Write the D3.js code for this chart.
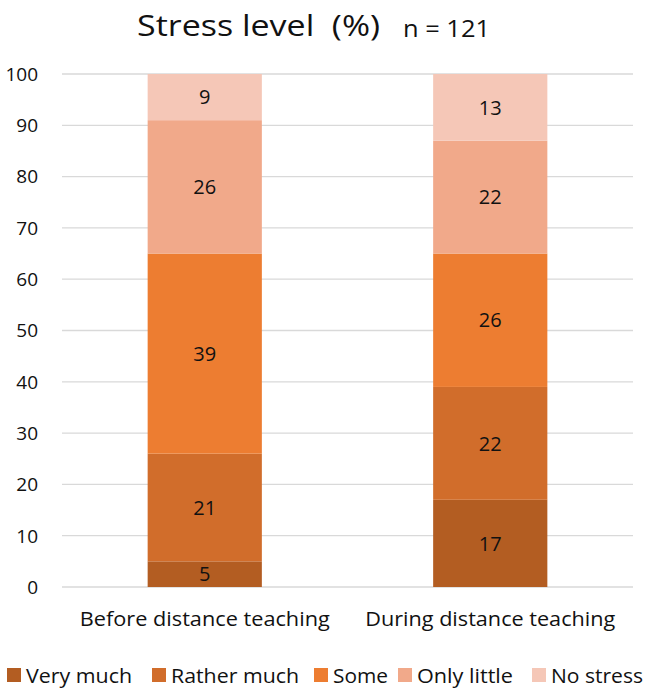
<!DOCTYPE html>
<html><head><meta charset="utf-8">
<script src="https://cdn.jsdelivr.net/npm/d3@7"></script>
<style>body{margin:0;background:#fff;} svg{display:block;font-family:"Open Sans",sans-serif;} text{white-space:pre;}</style>
</head><body>
<svg id="c" width="646" height="691"></svg>
<script>
const categories = ["Before distance teaching", "During distance teaching"];
const seriesNames = ["Very much", "Rather much", "Some", "Only little", "No stress"];
const seriesValues = {
  "Very much":   [5, 17],
  "Rather much": [21, 22],
  "Some":        [39, 26],
  "Only little": [26, 22],
  "No stress":   [9, 13]
};
const colors = ["#B35D22", "#D16D2B", "#ED7D31", "#F1A98A", "#F5C7B7"];
const yTicks = [0,10,20,30,40,50,60,70,80,90,100];

const svg = d3.select("#c");
const m = {left: 62, right: 633, top: 74, bottom: 587};
const x = d3.scaleBand().domain(categories).range([m.left, m.right]).paddingInner(0.6).paddingOuter(0.3);
const y = d3.scaleLinear().domain([0, 100]).range([m.bottom, m.top]);

svg.append("g").selectAll("line").data(yTicks).join("line")
  .attr("x1", m.left).attr("x2", m.right)
  .attr("y1", d => y(d)).attr("y2", d => y(d))
  .attr("stroke", "#d9d9d9").attr("stroke-width", 1.3);

svg.append("g").selectAll("text").data(yTicks).join("text")
  .attr("x", 38).attr("y", d => y(d)).attr("dy", "0.36em")
  .attr("text-anchor", "end").attr("font-size", 19).attr("fill", "#111")
  .text(d => d);

const rows = categories.map((c, i) => { const o = {cat: c}; seriesNames.forEach(s => o[s] = seriesValues[s][i]); return o; });
const stack = d3.stack().keys(seriesNames)(rows);

const g = svg.append("g");
stack.forEach((layer, li) => {
  g.selectAll(null).data(layer).join("rect")
    .attr("x", d => x(d.data.cat)).attr("width", x.bandwidth())
    .attr("y", d => y(d[1])).attr("height", d => y(d[0]) - y(d[1]))
    .attr("fill", colors[li]);
  g.selectAll(null).data(layer).join("text")
    .attr("x", d => x(d.data.cat) + x.bandwidth()/2)
    .attr("y", d => (y(d[0]) + y(d[1]))/2).attr("dy", "0.36em")
    .attr("text-anchor", "middle").attr("font-size", 20).attr("fill", "#111")
    .text(d => d[1] - d[0]);
});

svg.append("g").selectAll("text").data(categories).join("text")
  .attr("x", d => x(d) + x.bandwidth()/2).attr("y", 626)
  .attr("text-anchor", "middle").attr("font-size", 20).attr("fill", "#111")
  .attr("textLength", 250).attr("lengthAdjust", "spacingAndGlyphs")
  .text(d => d);

svg.append("text").attr("x", 137).attr("y", 36).attr("font-size", 29).attr("fill", "#111")
  .attr("textLength", 243).attr("lengthAdjust", "spacingAndGlyphs").text("Stress level  (%)");
svg.append("text").attr("x", 403).attr("y", 37).attr("font-size", 23.5).attr("fill", "#111")
  .attr("textLength", 87).attr("lengthAdjust", "spacingAndGlyphs").text("n = 121");

const legendX = [7, 152, 314, 398, 532];
const legendW = [106, 128, 55, 96, 92];
const lg = svg.append("g");
seriesNames.forEach((s, i) => {
  lg.append("rect").attr("x", legendX[i]).attr("y", 668).attr("width", 14).attr("height", 14).attr("fill", colors[i]);
  lg.append("text").attr("x", legendX[i] + 19).attr("y", 683).attr("font-size", 20).attr("fill", "#111")
    .attr("textLength", legendW[i]).attr("lengthAdjust", "spacingAndGlyphs").text(s);
});
</script>
</body></html>
